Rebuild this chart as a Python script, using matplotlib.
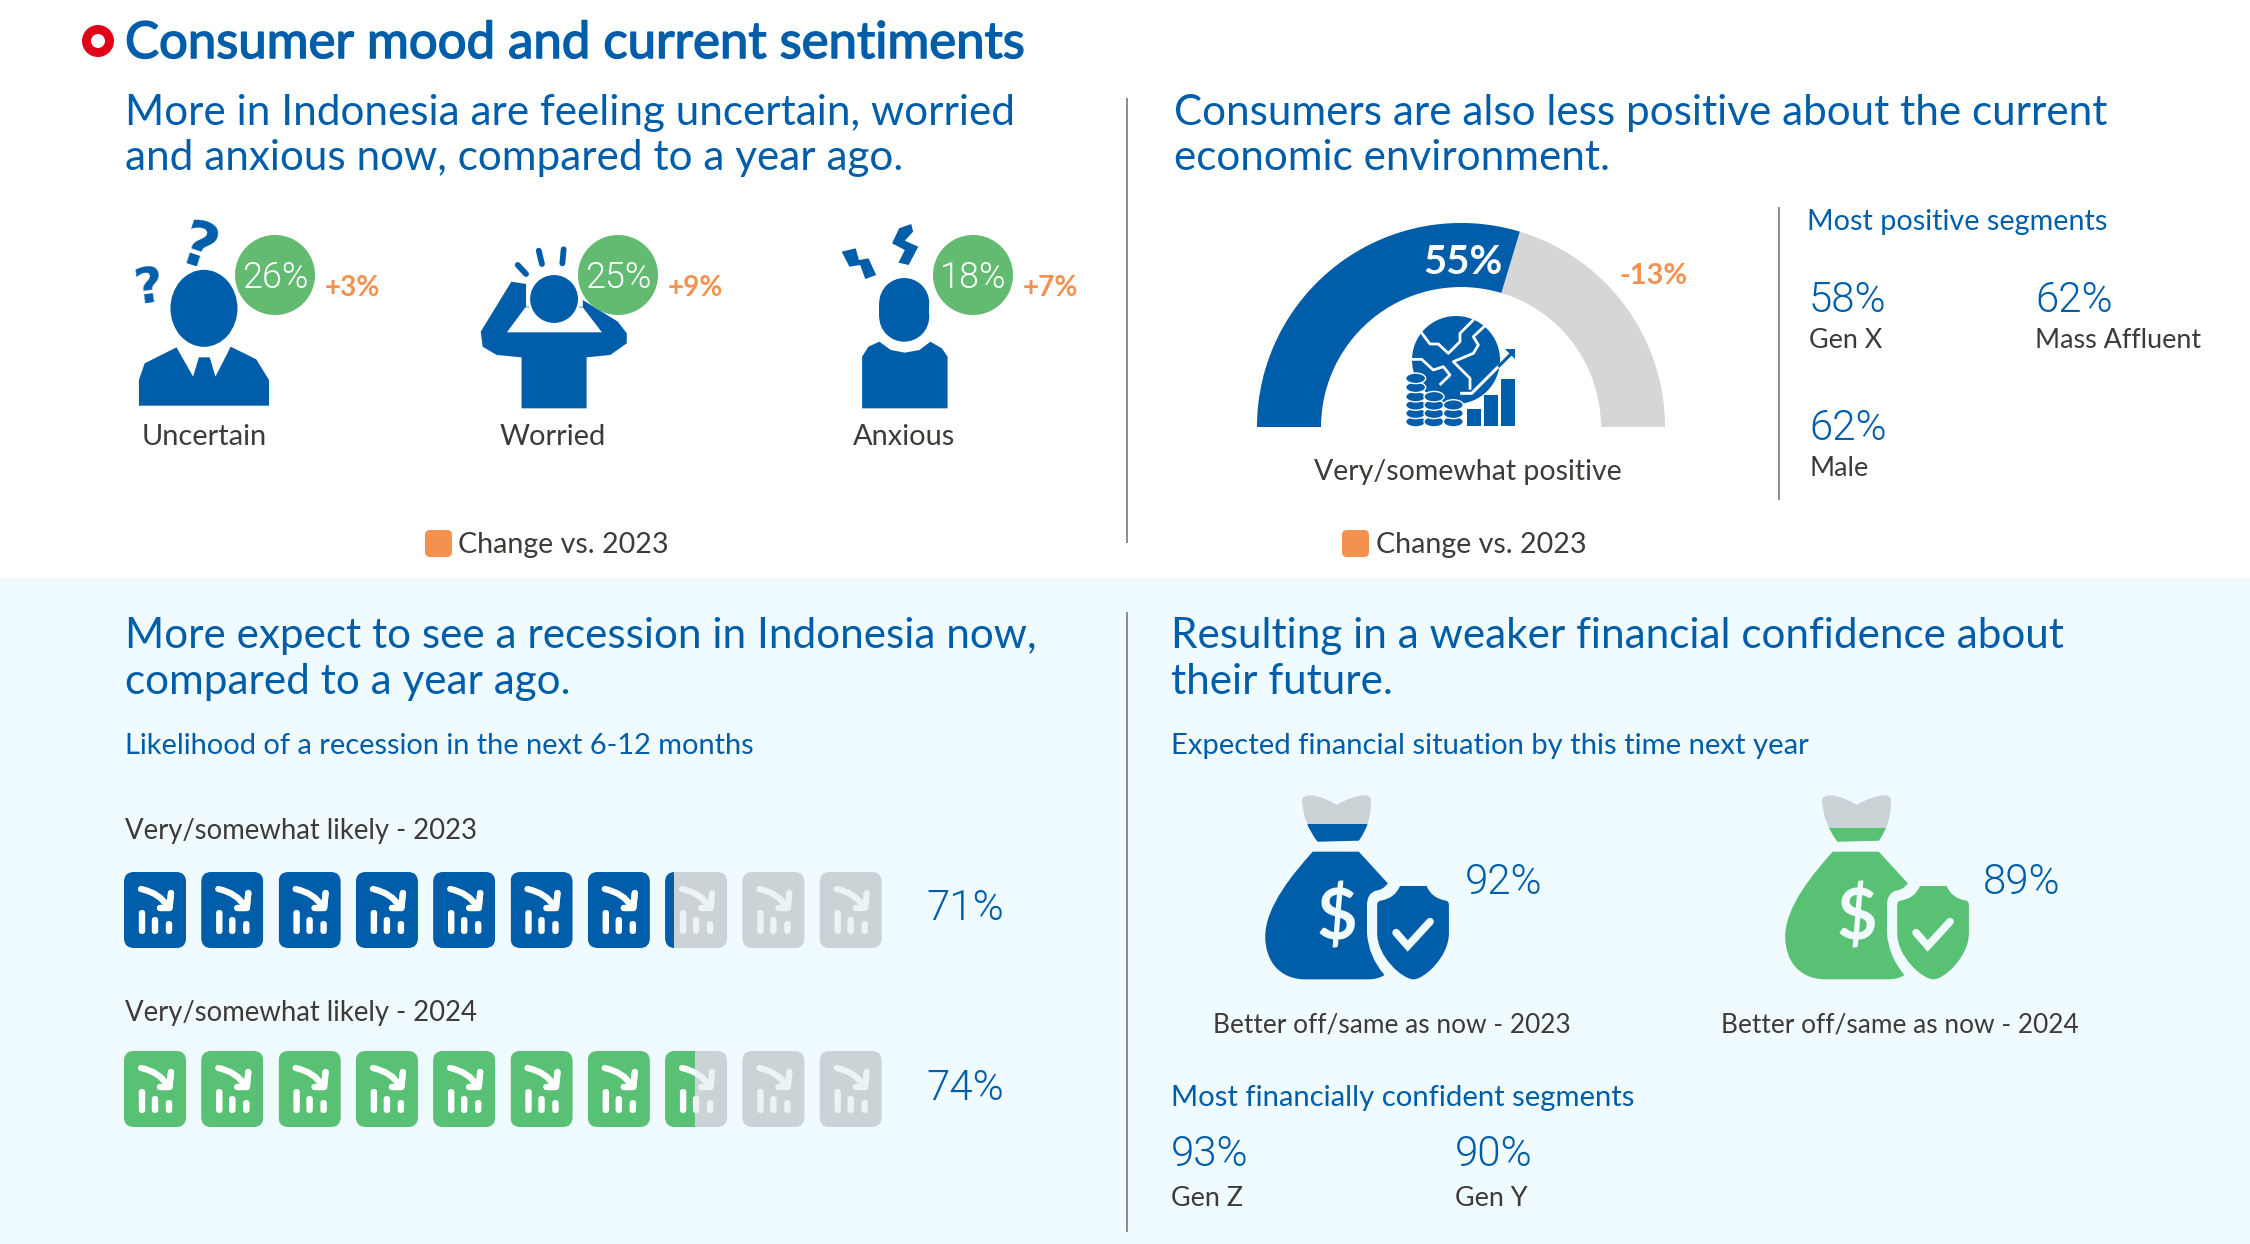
import matplotlib
matplotlib.use("Agg")
import matplotlib.pyplot as plt
import matplotlib.patheffects as pe
import numpy as np
from matplotlib.patches import Circle, Ellipse, FancyBboxPatch, Polygon, PathPatch, Rectangle, Wedge
from matplotlib.path import Path

BLUE = "#005DA9"
GREEN = "#59C174"
CIRCLE_GREEN = "#62BB71"
ORANGE = "#F4914F"
GREY = "#D6D6D6"
GREY_LIGHT = "#CAD3D6"
PALE = "#F0FBFF"
DARK = "#3D3A38"
RED = "#E3001B"

# values
mood_labels = ["Uncertain", "Worried", "Anxious"]
mood_values = [26, 25, 18]
mood_changes = [3, 9, 7]
positive_value = 55
positive_change = -13
gauge_fill = 0.593
segment_labels = ["Gen X", "Mass Affluent", "Male"]
segment_values = [58, 62, 62]
recession_labels = ["Very/somewhat likely - 2023", "Very/somewhat likely - 2024"]
recession_values = [71, 74]
recession_fill = [7.15, 7.48]
finance_labels = ["Better off/same as now - 2023", "Better off/same as now - 2024"]
finance_values = [92, 89]
finance_fill = [0.38, 0.30]
confident_labels = ["Gen Z", "Gen Y"]
confident_values = [93, 90]

plt.rcParams["font.family"] = ["Lato", "DejaVu Sans"]

fig = plt.figure(figsize=(22.5, 12.44), dpi=100)
ax = fig.add_axes([0, 0, 1, 1])
ax.set_xlim(0, 2250)
ax.set_ylim(1244, 0)
ax.axis("off")


def txt(x, y, s, px, color=BLUE, ha="left", weight="normal", **kw):
    return ax.text(x, y + 3, s, fontsize=px * 0.72, color=color, ha=ha, va="center", weight=weight, **kw)


def pct(x, y, s, px, color=BLUE, ha="left"):
    # thin numerals
    return txt(x, y, s, px, color=color, ha=ha, weight=300, family="Roboto")


def shape(cmds, fx, fy, **kw):
    # cmds: list of (letter, points) drawn through the mapping fx/fy
    verts, codes = [], []
    code = {"M": Path.MOVETO, "L": Path.LINETO, "Q": Path.CURVE3, "C": Path.CURVE4}
    for c, pts in cmds:
        for p in pts:
            verts.append((fx(p[0]), fy(p[1])))
            codes.append(code[c])
    verts.append(verts[0])
    codes.append(Path.CLOSEPOLY)
    patch = PathPatch(Path(verts, codes), lw=0, **kw)
    ax.add_patch(patch)
    return patch


def rbox(x, y, w, h, r, color, **kw):
    patch = FancyBboxPatch((x, y), w, h, boxstyle=f"round,pad=0,rounding_size={r}", fc=color, ec="none", **kw)
    ax.add_patch(patch)
    return patch


# background and rules
ax.add_patch(Rectangle((0, 578), 2250, 666, fc=PALE, ec="none", zorder=0))
for x, y0, y1 in [(1127, 99, 542), (1127, 613, 1231), (1779, 208, 499)]:
    ax.plot([x, x], [y0, y1], color="#8C8C8C", lw=1.4)

# title
ax.add_patch(Circle((98, 41), 16, fc=RED, ec="none"))
ax.add_patch(Circle((98, 41), 7, fc="white", ec="none"))
title = txt(125, 41, "Consumer mood and current sentiments", 50.9)
title.set_path_effects([pe.withStroke(linewidth=1.1, foreground=BLUE)])

# headings
headings = [
    (125, 110, "More in Indonesia are feeling uncertain, worried"),
    (125, 155, "and anxious now, compared to a year ago."),
    (1174, 110, "Consumers are also less positive about the current"),
    (1174, 155, "economic environment."),
    (125, 633, "More expect to see a recession in Indonesia now,"),
    (125, 679, "compared to a year ago."),
    (1171, 633, "Resulting in a weaker financial confidence about"),
    (1171, 679, "their future."),
]
for x, y, s in headings:
    txt(x, y, s, 42.3)

# mood icons, drawn in the 3x crop coordinates
zx = lambda v: 100 + v / 1.568
zy = lambda v: 200 + v / 3


def zpoly(points, color=BLUE, **kw):
    patch = Polygon([(zx(a), zy(b)) for a, b in points], closed=True, fc=color, ec="none", **kw)
    ax.add_patch(patch)
    return patch


# uncertain
zpoly([(61, 617), (61, 540), (70, 490), (120, 442), (146, 530), (155, 472), (172, 472),
       (181, 530), (205, 440), (245, 478), (265, 540), (265, 617)])
ax.add_patch(Ellipse((zx(163), zy(325)), 67, 77, fc=BLUE, ec="none"))
txt(zx(154), zy(143), "?", 62, ha="center", weight="bold", rotation=-18, family="DejaVu Sans")
txt(zx(77), zy(255), "?", 50, ha="center", weight="bold", rotation=8, family="DejaVu Sans")

# worried
zpoly([(645, 245), (668, 252), (668, 320), (757, 320), (757, 300), (812, 365), (826, 400), (826, 430), (800, 465),
       (763, 472), (763, 625), (661, 625), (661, 472), (622, 465), (600, 440), (597, 395)])
zpoly([(667, 322), (638, 397), (787, 397), (757, 322)], color="white")
ax.add_patch(Ellipse((zx(712), zy(297)), 50, 50, fc=BLUE, ec="white", lw=1.5))
for seg in [((655, 195), (668, 222)), ((688, 152), (693, 192)), ((727, 148), (725, 190))]:
    ax.plot([zx(seg[0][0]), zx(seg[1][0])], [zy(seg[0][1]), zy(seg[1][1])], color=BLUE, lw=4.2,
            solid_capstyle="round")

# anxious
zpoly([(1195, 625), (1195, 470), (1205, 440), (1222, 425), (1240, 450), (1262, 458), (1285, 450),
       (1302, 425), (1320, 445), (1329, 470), (1329, 625)])
for centre in [309, 350]:
    ax.add_patch(Ellipse((zx(1261), zy(centre)), 50, 50, fc=BLUE, ec="none"))
ax.add_patch(Rectangle((zx(1261) - 25, zy(309)), 50, (350 - 309) / 3, fc=BLUE, ec="none"))
zpoly([(1163, 155), (1185, 145), (1190, 180), (1205, 175), (1217, 225), (1200, 237), (1192, 195), (1175, 200)])
zpoly([(1253, 85), (1272, 72), (1275, 95), (1262, 122), (1283, 140), (1268, 195), (1252, 188), (1262, 150), (1242, 130)])

circle_x = [275, 618, 973]
for lab, val, chg, cx, lx in zip(mood_labels, mood_values, mood_changes, circle_x, [204, 553, 904]):
    ax.add_patch(Circle((cx, 275), 40, fc=CIRCLE_GREEN, ec="none"))
    pct(cx, 275, f"{val}%", 36, color="white", ha="center")
    txt(cx + 77, 285, f"+{chg}%", 28, color=ORANGE, ha="center", weight="bold")
    txt(lx, 434, lab, 29, color=DARK, ha="center")

# legends
for bx, tx in [(425, 530), (1342, 530)]:
    rbox(bx, tx, 27, 27, 5, ORANGE)
for tx in [458, 1376]:
    txt(tx, 542, "Change vs. 2023", 28.6, color=DARK)

# gauge (y axis runs downward, so the top half is 180..360 degrees)
gx, gy = 1461, 427
ax.add_patch(Wedge((gx, gy), 204, 180, 360, width=64, fc=GREY, ec="none"))
ax.add_patch(Wedge((gx, gy), 204, 180, 180 + 180 * gauge_fill, width=64, fc=BLUE, ec="none"))
txt(1463, 259, f"{positive_value}%", 40, color="white", ha="center", weight="bold")
txt(1653, 273, f"{positive_change}%", 29, color=ORANGE, ha="center", weight="bold")
txt(1468, 469, "Very/somewhat positive", 28.5, color=DARK, ha="center")

# globe, coins and bars of the gauge icon
gz = lambda a, b: (1230 + a / 3, 200 + b / 3)
ax.add_patch(Circle(gz(678, 480), 44, fc=BLUE, ec="none"))
cracks = [
    [(572, 395), (600, 432), (625, 432), (655, 460), (690, 425), (690, 400), (728, 362)],
    [(762, 380), (730, 410), (745, 435), (730, 460), (670, 485), (720, 535), (720, 565)],
    [(545, 478), (575, 478), (610, 510), (640, 500), (660, 525), (632, 552)],
]
for crack in cracks:
    pts = np.array([gz(a, b) for a, b in crack])
    ax.plot(pts[:, 0], pts[:, 1], color="white", lw=2)
arrow = np.array([gz(a, b) for a, b in [(695, 580), (725, 580), (808, 497)]])
ax.plot(arrow[:, 0], arrow[:, 1], color="white", lw=2.2)
arrow_out = np.array([gz(a, b) for a, b in [(808, 497), (840, 465)]])
ax.plot(arrow_out[:, 0], arrow_out[:, 1], color=BLUE, lw=2.2)
ax.add_patch(Polygon([gz(825, 447), gz(855, 447), gz(855, 478)], closed=True, fc=BLUE, ec="none"))
for a, b in [(711, 627), (762, 585), (813, 537)]:
    x0, y0 = gz(a, b)
    ax.add_patch(Rectangle((x0, y0), 14, (678 - b) / 3, fc=BLUE, ec="none"))
coins = [(557, [665, 640, 615, 590, 562, 535]), (612, [665, 640, 615, 590]), (670, [665, 640, 615])]
for cx, levels in coins:
    for lv in levels:
        ax.add_patch(Ellipse(gz(cx, lv), 20, 10.5, fc=BLUE, ec="white", lw=1.0))

# positive segments
txt(1807, 219, "Most positive segments", 28.8)
for (x, y), val, lab in zip([(1809, 297), (2035, 297), (1809, 425)], segment_values, segment_labels):
    pct(x, y, f"{val}%", 42)
    txt(x, y + 41, lab, 27, color=DARK)

# recession pictograms
txt(125, 743, "Likelihood of a recession in the next 6-12 months", 29)


def chart_icon(x, y, bg, glyph, clip=None):
    parts = [rbox(x, y, 62, 76, 10, bg)]
    for dx, top in zip([18, 31, 45], [38, 45, 49]):
        parts.append(rbox(x + dx - 3.2, y + top, 6.4, 62 - top, 3.2, glyph))
    curve = PathPatch(Path([(x + 17, y + 17), (x + 36, y + 21), (x + 44, y + 35)],
                           [Path.MOVETO, Path.CURVE3, Path.CURVE3]),
                      fc="none", ec=glyph, lw=4.5, capstyle="round")
    ax.add_patch(curve)
    parts.append(curve)
    head, = ax.plot([x + 47, x + 45.5, x + 36], [y + 21, y + 36, y + 36], color=glyph, lw=4.5,
                    solid_capstyle="round", solid_joinstyle="round")
    parts.append(head)
    if clip is not None:
        for p in parts:
            p.set_clip_path(clip)


row_y = [872, 1051]
row_colors = [BLUE, GREEN]
value_y = [905, 1085]
for lab, val, fill, y, col, ly, vy in zip(recession_labels, recession_values, recession_fill, row_y, row_colors, [828, 1010], value_y):
    txt(125, ly, lab, 27.5, color=DARK)
    pct(926, vy, f"{val}%", 42)
    for i in range(10):
        x = 124 + i * 77.3
        chart_icon(x, y, GREY_LIGHT, "#EAF3F5")
        part = min(max(fill - i, 0), 1)
        if part > 0:
            clip = Rectangle((x, y - 2), 62 * part, 80, transform=ax.transData)
            chart_icon(x, y, col, "white", clip=clip)

# money bags
txt(1171, 743, "Expected financial situation by this time next year", 29.2)
bag_body = [
    ("M", [(155, 215)]), ("L", [(245, 215), (305, 310)]), ("Q", [(295, 330), (280, 332), (262, 340), (262, 375)]),
    ("L", [(262, 460)]), ("Q", [(265, 530), (298, 585), (285, 598), (265, 598)]), ("L", [(135, 598)]),
    ("C", [(80, 598), (52, 540), (52, 470), (52, 380), (110, 280), (150, 215)]),
]
bag_shield = [
    ("M", [(330, 318)]), ("L", [(385, 318)]), ("Q", [(395, 355), (425, 362), (431, 364), (431, 375)]),
    ("L", [(431, 460)]), ("C", [(431, 530), (380, 598), (358, 598), (335, 598), (283, 530), (283, 460)]),
    ("L", [(283, 375)]), ("Q", [(283, 364), (290, 362), (320, 355), (330, 318)]),
]
bag_knot = [
    ("M", [(128, 60)]), ("Q", [(130, 46), (145, 46), (170, 48), (200, 75), (230, 48), (255, 46), (270, 46), (270, 60),
                               (272, 130), (245, 182)]),
    ("L", [(160, 185)]), ("Q", [(130, 130), (128, 60)]),
]
for lab, val, fill, col, dx, vx, lx in zip(finance_labels, finance_values, finance_fill, [BLUE, GREEN], [0, 520], [1504, 2022], [1392, 1900]):
    fx = lambda v, dx=dx: 1240 + v / 2.063 + dx
    fy = lambda v: 780 + v / 3
    shape(bag_body, fx, fy, fc=col, ec="none")
    shape(bag_shield, fx, fy, fc=col, ec="none")
    shape(bag_knot, fx, fy, fc=GREY_LIGHT, ec="none")
    knot = shape(bag_knot, fx, fy, fc=col, ec="none")
    knot_h = 139 * fill / 3
    knot.set_clip_path(Rectangle((fx(100), fy(185) - knot_h), 80, knot_h, transform=ax.transData))
    txt(fx(200), fy(405), "$", 70, color=PALE, ha="center", weight="bold")
    ax.plot([fx(322), fx(346), fx(392)], [fy(458), fy(498), fy(425)], color=PALE, lw=5.5,
            solid_capstyle="round", solid_joinstyle="miter")
    pct(vx, 880, f"{val}%", 42, ha="center")
    txt(lx, 1022, lab, 26.2, color=DARK, ha="center")

txt(1171, 1095, "Most financially confident segments", 29.2)
for x, val, lab in zip([1171, 1455], confident_values, confident_labels):
    pct(x, 1151, f"{val}%", 42)
    txt(x, 1195, lab, 27, color=DARK)

fig.savefig("out.png", dpi=100)
